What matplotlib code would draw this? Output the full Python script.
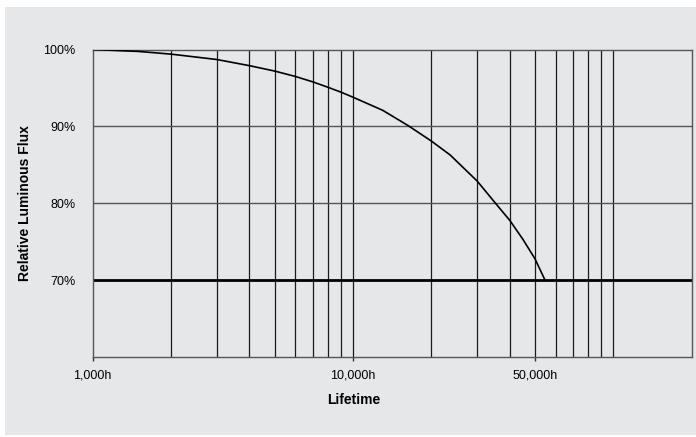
import matplotlib
matplotlib.use("Agg")
import matplotlib.pyplot as plt
from matplotlib.patches import Rectangle
from matplotlib.ticker import FixedLocator, FixedFormatter, NullFormatter

plt.rcParams['font.family'] = ['Liberation Sans', 'DejaVu Sans']

# Lifetime curve (hours, % of initial flux)
hours = [1000, 1500, 2000, 3000, 4000, 5000, 6000, 7000, 8000, 9000, 10000,
         13000, 16300, 20000, 23600, 30000, 35100, 40000, 45000, 50000, 54700]
flux = [100, 99.75, 99.4, 98.7, 97.9, 97.2, 96.5, 95.8, 95.1, 94.45, 93.8,
        92.1, 90.1, 88.1, 86.3, 82.9, 80.1, 77.8, 75.3, 72.8, 70.0]

x_major = [1000, 10000, 50000]
x_major_labels = ['1,000h', '10,000h', '50,000h']
x_grid = [2000, 3000, 4000, 5000, 6000, 7000, 8000, 9000, 10000,
          20000, 30000, 40000, 50000, 60000, 70000, 80000, 90000, 100000]
y_ticks = [70, 80, 90, 100]
y_labels = ['70%', '80%', '90%', '100%']
threshold = 70

bg = '#e6e7e8'
fig = plt.figure(figsize=(6.96, 4.37), dpi=100)
fig.patch.set_facecolor('white')
fig.patches.append(Rectangle((5 / 696, 2 / 437), 1 - 5 / 696, 428 / 437,
                             transform=fig.transFigure, facecolor=bg,
                             edgecolor='none', zorder=-5))

ax = fig.add_axes([0.1332, 0.1824, 0.9938 - 0.1332, 0.8867 - 0.1824])
ax.set_zorder(2)
ax.set_facecolor(bg)
ax.set_xscale('log')
ax.set_xlim(1000, 200000)
ax.set_ylim(60, 100)

# vertical grid lines
for xv in x_grid:
    ax.axvline(xv, color='#1a1a1a', linewidth=0.9, zorder=1)
# horizontal grid lines
for yv in [80, 90]:
    ax.axhline(yv, color='#555555', linewidth=1.0, zorder=1)
ax.axhline(threshold, color='black', linewidth=2.0, zorder=2)

ax.plot(hours, flux, color='black', linewidth=1.2, zorder=3)

ax.xaxis.set_major_locator(FixedLocator(x_major))
ax.xaxis.set_major_formatter(FixedFormatter(x_major_labels))
ax.xaxis.set_minor_locator(FixedLocator([]))
ax.xaxis.set_minor_formatter(NullFormatter())
ax.tick_params(axis='x', which='major', length=3, width=1, color='#333333',
               direction='out', pad=5.5, labelsize=9)
ax.set_yticks(y_ticks)
ax.set_yticklabels(y_labels)
ax.tick_params(axis='y', length=0, pad=12.5, labelsize=9)

for s in ax.spines.values():
    s.set_color('#555555')
    s.set_linewidth(1.0)

ax.set_xlabel('Lifetime', fontsize=10, fontweight='bold')
ax.xaxis.set_label_coords(0.436, -0.116)
ax.set_ylabel('Relative Luminous Flux', fontsize=10, fontweight='bold')
ax.yaxis.set_label_coords(-0.101, 0.5)

fig.savefig('out.png', dpi=100, facecolor=fig.get_facecolor())
